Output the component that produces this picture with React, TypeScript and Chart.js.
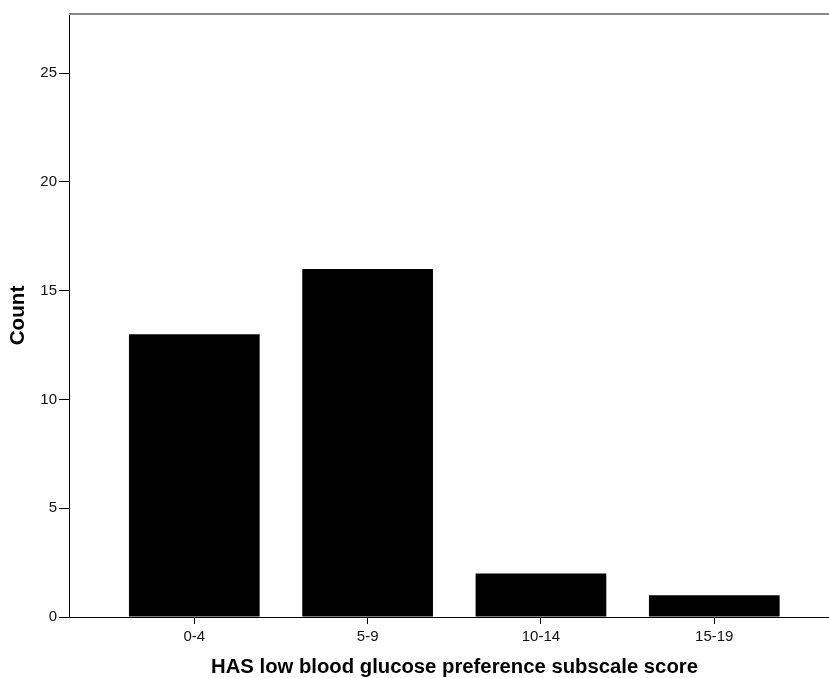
import React, { useEffect, useRef } from "react";
import { Chart, registerables } from "chart.js";

Chart.register(...registerables);

const categories = ["0-4", "5-9", "10-14", "15-19"];
const counts = [13, 16, 2, 1];
const yTickValues = [0, 5, 10, 15, 20, 25];
const xTitle = "HAS low blood glucose preference subscale score";
const yTitle = "Count";

const FONT = "'Liberation Sans', Arial, Helvetica, sans-serif";

const topLinePlugin = {
  id: "topLine",
  afterDraw(chart: any) {
    const { ctx, chartArea } = chart;
    ctx.save();
    ctx.strokeStyle = "#888888";
    ctx.lineWidth = 2;
    ctx.beginPath();
    ctx.moveTo(chartArea.left, chartArea.top);
    ctx.lineTo(chartArea.right, chartArea.top);
    ctx.stroke();
    ctx.restore();
  },
};

export default function App() {
  const ref = useRef<HTMLCanvasElement | null>(null);

  useEffect(() => {
    if (!ref.current) return;
    const chart = new Chart(ref.current, {
      type: "bar",
      data: {
        datasets: [
          {
            data: counts.map((v, i) => ({ x: i, y: v })),
            backgroundColor: "#000000",
            borderColor: "#000000",
            borderWidth: 0,
            barPercentage: 0.754,
            categoryPercentage: 1,
          },
        ],
      },
      options: {
        responsive: false,
        animation: false,
        layout: { padding: { left: 0, right: 0, top: 14, bottom: 0 } },
        plugins: {
          legend: { display: false },
          tooltip: { enabled: false },
        },
        scales: {
          x: {
            type: "linear",
            offset: false,
            min: -0.7229,
            max: 3.7253,
            afterBuildTicks: (scale: any) => {
              scale.ticks = categories.map((_, i) => ({ value: i }));
            },
            afterFit: (scale: any) => {
              scale.height = 61;
            },
            ticks: {
              callback: (v: any) => categories[Math.round(Number(v))] ?? "",
              font: { family: FONT, size: 15 },
              color: "#111",
              padding: 4,
              maxRotation: 0,
              autoSkip: false,
            },
            grid: {
              display: true,
              offset: false,
              drawOnChartArea: false,
              drawTicks: true,
              tickLength: 7,
              color: "#000",
            },
            border: { display: true, color: "#000", width: 1 },
            title: {
              display: true,
              text: xTitle,
              font: { family: FONT, size: 20.3, weight: "bold", lineHeight: 1.0 },
              color: "#000",
              padding: { top: 0, bottom: 0 },
            },
          },
          y: {
            type: "linear",
            min: 0,
            max: 27.72,
            afterBuildTicks: (scale: any) => {
              scale.ticks = yTickValues.map((v) => ({ value: v }));
            },
            afterFit: (scale: any) => {
              scale.width = 69;
            },
            ticks: {
              font: { family: FONT, size: 15 },
              color: "#111",
              padding: 2,
            },
            grid: {
              display: true,
              drawOnChartArea: false,
              drawTicks: true,
              tickLength: 10,
              color: "#000",
            },
            border: { display: true, color: "#000", width: 1 },
            title: {
              display: true,
              text: yTitle,
              font: { family: FONT, size: 20.7, weight: "bold" },
              color: "#000",
              padding: { top: 6, bottom: 0 },
            },
          },
        },
      },
      plugins: [topLinePlugin],
    } as any);
    return () => chart.destroy();
  }, []);

  return (
    <div
      style={{
        position: "absolute",
        left: 0,
        top: 0,
        width: 829,
        height: 678,
        overflow: "hidden",
        background: "#fff",
      }}
    >
      <canvas ref={ref} width={840} height={678} style={{ display: "block" }} />
    </div>
  );
}
